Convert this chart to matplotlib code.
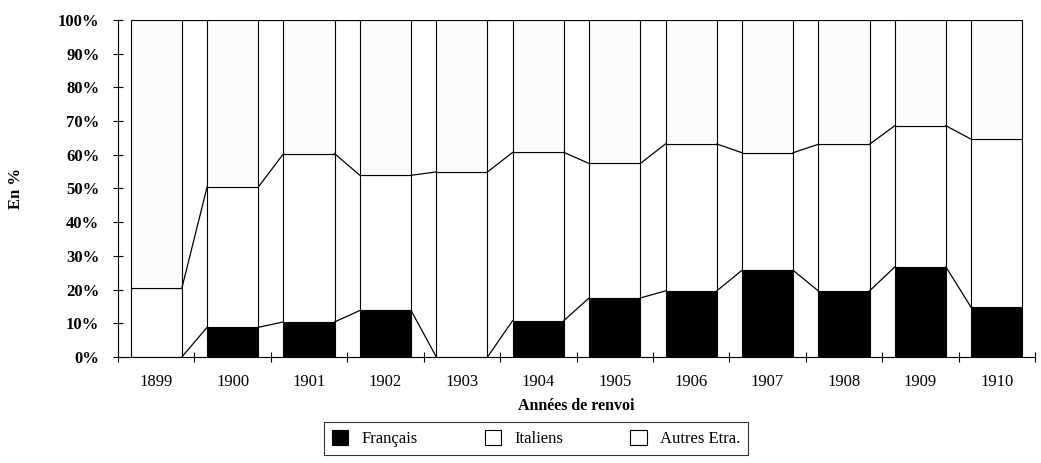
import matplotlib.pyplot as plt
import numpy as np

plt.rcParams['font.family'] = ['Liberation Serif', 'DejaVu Serif']

annees = ['1899', '1900', '1901', '1902', '1903', '1904',
          '1905', '1906', '1907', '1908', '1909', '1910']
# parts en %
francais = [0, 8.8, 10.4, 13.8, 0, 10.8, 17.5, 19.6, 25.7, 19.6, 26.7, 14.7]
cumul_italiens = [20.4, 50.4, 60.3, 53.9, 54.9, 60.7, 57.4, 63.2, 60.6, 63.1, 68.6, 64.6]

italiens = [c - f for c, f in zip(cumul_italiens, francais)]
autres = [100 - c for c in cumul_italiens]

x = np.arange(len(annees))
largeur = 0.67

fig = plt.figure(figsize=(10.41, 4.63), dpi=100)
ax = fig.add_axes([0.1134, 0.229, 0.8808, 0.728])

b1 = ax.bar(x, francais, largeur, color='black', edgecolor='black', linewidth=0.8, label='Français')
b2 = ax.bar(x, italiens, largeur, bottom=francais, color='white', edgecolor='black',
            linewidth=0.8, label='Italiens')
b3 = ax.bar(x, autres, largeur, bottom=cumul_italiens, color='#fbfbfb', edgecolor='black',
            linewidth=0.8, label='Autres Etra.')

# lignes de series entre les barres
for serie in (francais, cumul_italiens, [100] * len(annees)):
    for i in range(len(annees) - 1):
        ax.plot([x[i] + largeur / 2, x[i + 1] - largeur / 2], [serie[i], serie[i + 1]],
                color='black', linewidth=0.9)

ax.set_xlim(-0.5, len(annees) - 0.5)
ax.set_ylim(0, 100)
ax.set_yticks(range(0, 101, 10))
ax.set_yticklabels([f'{v}%' for v in range(0, 101, 10)], fontsize=12, fontweight='bold')
ax.set_xticks(x)
ax.set_xticklabels(annees, fontsize=12)
ax.set_xticks(np.arange(-0.5, len(annees), 1), minor=True)
ax.tick_params(axis='x', which='major', length=0, pad=12)
ax.tick_params(axis='x', which='minor', direction='inout', length=7, width=0.8)
ax.tick_params(axis='y', direction='inout', length=7, width=0.8, pad=10)

ax.spines['top'].set_visible(False)
ax.spines['right'].set_visible(False)
ax.spines['left'].set_linewidth(0.8)
ax.spines['bottom'].set_linewidth(0.8)

ax.set_xlabel('Années de renvoi', fontsize=11.5, fontweight='bold', labelpad=6)
ax.set_ylabel('En %', fontsize=12, fontweight='bold')
ax.yaxis.set_label_coords(-0.1025, 0.5)

leg = fig.legend(handles=[b1, b2, b3], loc='center', bbox_to_anchor=(0.515, 0.053),
                 ncol=3, fontsize=12, frameon=True, fancybox=False, edgecolor='black',
                 handlelength=1.0, handleheight=1.0, columnspacing=4.0, borderpad=0.45)
leg.get_frame().set_linewidth(0.8)

plt.savefig('out.png', dpi=100)
